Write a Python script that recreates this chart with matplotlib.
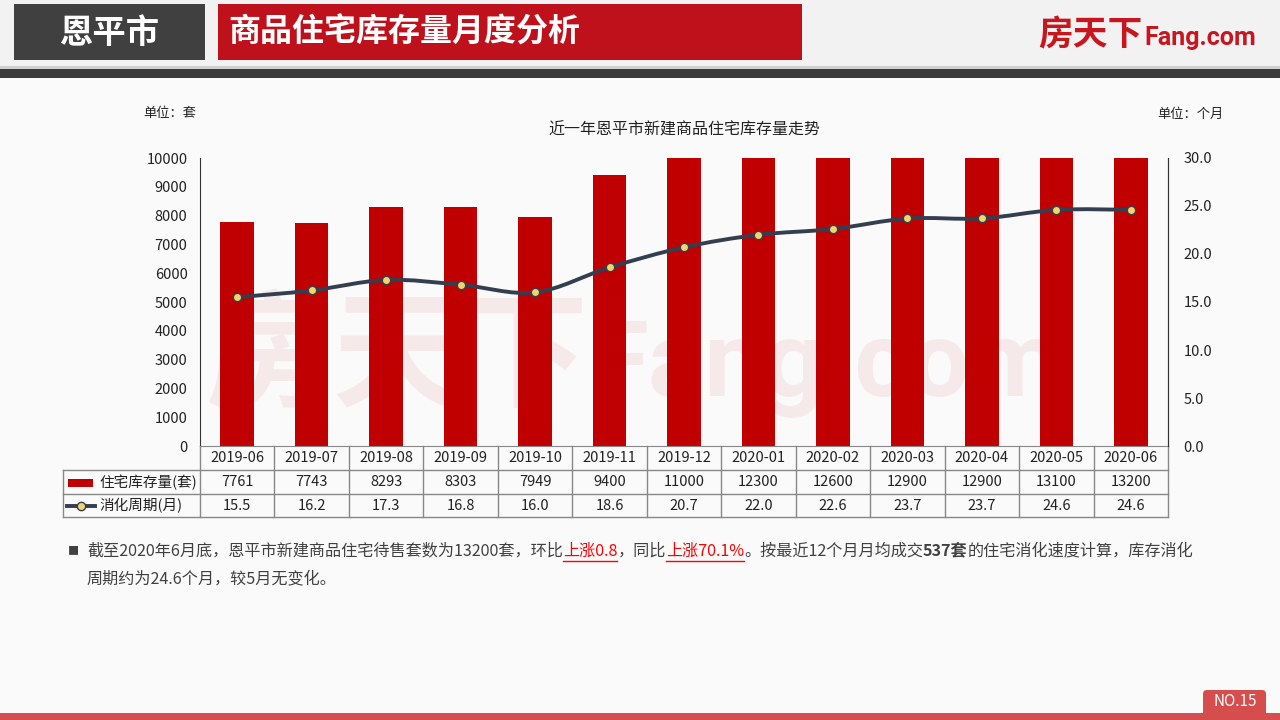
import matplotlib.pyplot as plt
from matplotlib.patches import Rectangle, FancyBboxPatch, PathPatch
from matplotlib.path import Path
from matplotlib.transforms import blended_transform_factory
import numpy as np

plt.rcParams['font.family'] = ['Noto Sans CJK SC', 'DejaVu Sans']

months = ['2019-06', '2019-07', '2019-08', '2019-09', '2019-10', '2019-11', '2019-12',
          '2020-01', '2020-02', '2020-03', '2020-04', '2020-05', '2020-06']
stock = [7761, 7743, 8293, 8303, 7949, 9400, 11000, 12300, 12600, 12900, 12900, 13100, 13200]
cycle = [15.5, 16.2, 17.3, 16.8, 16.0, 18.6, 20.7, 22.0, 22.6, 23.7, 23.7, 24.6, 24.6]

RED = '#c00000'
LINE = '#333f50'
TXT = '#404040'

fig = plt.figure(figsize=(12.8, 7.2), dpi=100, facecolor='#fafafa')

# full-figure layer in pixel units for the page decoration and the data table
bg = fig.add_axes([0, 0, 1, 1], zorder=0)
bg.set_xlim(0, 1280)
bg.set_ylim(720, 0)
bg.axis('off')

# header
bg.add_patch(Rectangle((0, 0), 1280, 68, color='#f2f2f2', lw=0))
bg.add_patch(Rectangle((0, 66), 1280, 3, color='#d0d0d0', lw=0))
bg.add_patch(Rectangle((0, 69), 1280, 9, color='#3b3b3b', lw=0))
bg.add_patch(Rectangle((14, 4), 191, 56, color='#404040', lw=0))
bg.add_patch(Rectangle((218, 4), 584, 56, color='#be111c', lw=0))
bg.text(109, 33, '恩平市', color='white', fontsize=24, fontweight='bold', ha='center', va='center')
bg.text(228, 33, '商品住宅库存量月度分析', color='white', fontsize=23, fontweight='bold', ha='left', va='center')
bg.text(1038, 35, '房天下', color='#c8161e', fontsize=25, fontweight='bold', ha='left', va='center')
bg.text(1144, 38, 'Fang.com', color='#c8161e', fontsize=18, fontweight='bold', ha='left', va='center',
        family=['Roboto', 'DejaVu Sans'])

# watermark
bg.text(205, 360, '房天下', color='#c8161e', alpha=0.07, fontsize=92, fontweight='bold', ha='left', va='center')
bg.text(590, 368, 'Fang.com', color='#c8161e', alpha=0.07, fontsize=76, fontweight='bold', ha='left', va='center',
        family=['Roboto', 'DejaVu Sans'])

# footer
bg.add_patch(Rectangle((0, 713), 1280, 7, color='#d64d4d', lw=0))
bg.add_patch(FancyBboxPatch((1203, 690), 63, 26, boxstyle='round,pad=0,rounding_size=4', color='#d64d4d', lw=0))
bg.text(1235, 701, 'NO.15', color='white', fontsize=11, ha='center', va='center')

# chart
x = np.arange(len(months))
ax = fig.add_axes([200 / 1280, (720 - 446) / 720, 968 / 1280, 288 / 720], zorder=1)
ax.patch.set_alpha(0)
ax.bar(x, stock, width=0.45, color=RED, zorder=2)
ax.set_xlim(-0.5, len(months) - 0.5)
ax.set_ylim(0, 10000)
ax.set_yticks(np.arange(0, 10001, 1000))
ax.set_xticks([])
ax.tick_params(axis='y', length=0, pad=9, labelsize=10.5, labelcolor='#222222')
ax.spines['top'].set_visible(False)
ax.spines['left'].set_color('#333333')
ax.spines['bottom'].set_color('#888888')
ax.spines['right'].set_color('#333333')

ax2 = ax.twinx()
ax2.set_ylim(0, 30)
ax2.set_yticks(np.arange(0, 30.1, 5))
ax2.set_yticklabels([f'{v:.1f}' for v in np.arange(0, 30.1, 5)])
ax2.tick_params(axis='y', length=0, pad=11, labelsize=10.5, labelcolor='#222222')
ax2.spines['top'].set_visible(False)
ax2.spines['right'].set_color('#333333')
ax2.spines['left'].set_visible(False)
ax2.spines['bottom'].set_visible(False)

# smooth line as bezier path through the points
pts = np.column_stack([x, cycle]).astype(float)
verts = [tuple(pts[0])]
codes = [Path.MOVETO]
n = len(pts)
for i in range(n - 1):
    p0 = pts[max(i - 1, 0)]
    p1 = pts[i]
    p2 = pts[i + 1]
    p3 = pts[min(i + 2, n - 1)]
    c1 = p1 + (p2 - p0) / 6
    c2 = p2 - (p3 - p1) / 6
    verts += [tuple(c1), tuple(c2), tuple(p2)]
    codes += [Path.CURVE4] * 3
ax2.add_patch(PathPatch(Path(verts, codes), facecolor='none', edgecolor=LINE, lw=2.8, zorder=3))
ax2.plot(x, cycle, 'o', ms=6, mfc='#f5d36c', mec=LINE, mew=1, zorder=4)

ax.set_title('近一年恩平市新建商品住宅库存量走势', fontsize=11.5, color='#222222', pad=17)
bg.text(143, 114, '单位：套', fontsize=9.5, color='#222222', ha='left', va='center')
bg.text(1157, 114, '单位：个月', fontsize=9.5, color='#222222', ha='left', va='center')

# data table under the chart
tr = blended_transform_factory(ax.transData, bg.transData)
grid = dict(color='#888888', lw=1, zorder=5)
bg.plot([63, 1168], [470, 470], **grid)
bg.plot([63, 1168], [494, 494], **grid)
bg.plot([63, 1168], [517, 517], **grid)
bg.plot([63, 63], [470, 517], **grid)
for b in np.arange(-0.5, len(months), 1.0):
    bg.plot([b, b], [446, 517], transform=tr, **grid)
for i, m in enumerate(months):
    bg.text(i, 458, m, transform=tr, ha='center', va='center', fontsize=10.5, color='#222222')
    bg.text(i, 482, str(stock[i]), transform=tr, ha='center', va='center', fontsize=10.5, color='#222222')
    bg.text(i, 505.5, f'{cycle[i]:.1f}', transform=tr, ha='center', va='center', fontsize=10.5, color='#222222')
bg.add_patch(Rectangle((68, 478.5), 25, 8, color=RED, lw=0))
bg.text(99, 482, '住宅库存量(套)', fontsize=10.5, color='#222222', ha='left', va='center')
bg.plot([67, 95], [505.5, 505.5], color=LINE, lw=2.8)
bg.plot([81], [505.5], 'o', ms=6, mfc='#f5d36c', mec=LINE, mew=1)
bg.text(99, 505.5, '消化周期(月)', fontsize=10.5, color='#222222', ha='left', va='center')

# commentary paragraph
renderer = fig.canvas.get_renderer()


def rich_line(x0, y0, parts, size=11.6):
    for s, color, weight, ul in parts:
        t = bg.text(x0, y0, s, fontsize=size, color=color, fontweight=weight, ha='left', va='center')
        w = t.get_window_extent(renderer).width
        if ul:
            bg.plot([x0, x0 + w], [y0 + 10, y0 + 10], color=color, lw=1)
        x0 += w


bg.text(68, 551, '■', fontsize=8, color=TXT, ha='left', va='center')
rich_line(87, 551, [
    ('截至2020年6月底，恩平市新建商品住宅待售套数为13200套，环比', TXT, 'normal', False),
    ('上涨0.8', '#ff0000', 'normal', True),
    ('，同比', TXT, 'normal', False),
    ('上涨70.1%', '#ff0000', 'normal', True),
    ('。按最近12个月月均成交', TXT, 'normal', False),
    ('537套', TXT, 'bold', False),
    ('的住宅消化速度计算，库存消化', TXT, 'normal', False),
])
rich_line(87, 580, [('周期约为24.6个月，较5月无变化。', TXT, 'normal', False)])

fig.savefig('out.png', dpi=100, facecolor=fig.get_facecolor())
